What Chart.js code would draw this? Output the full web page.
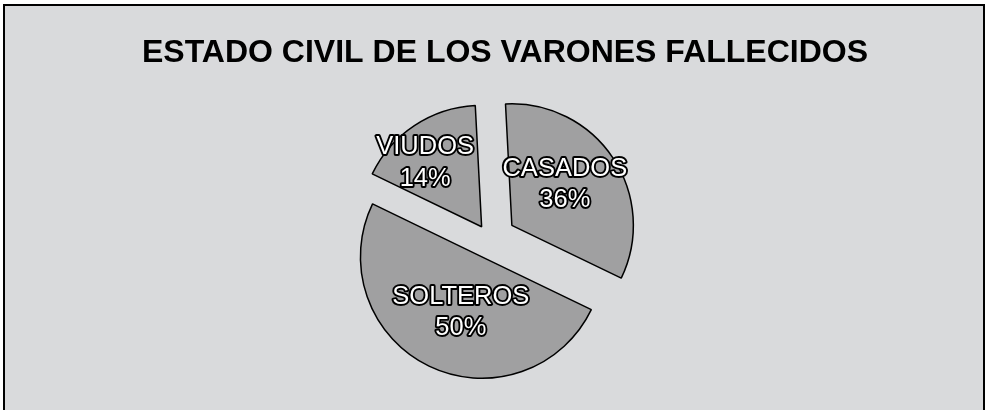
<!DOCTYPE html>
<html>
<head>
<meta charset="utf-8">
<script src="https://cdn.jsdelivr.net/npm/chart.js@4/dist/chart.umd.min.js"></script>
<style>
  html, body { margin: 0; padding: 0; background: #ffffff; }
  #frame {
    position: absolute; left: 3px; top: 4px; width: 982px; height: 420px;
    border: 2px solid #000; background: #d9dadc; box-sizing: border-box;
  }
  #wrap { position: absolute; left: 0; top: 0; width: 987px; height: 410px; }
</style>
</head>
<body>
<div id="frame"></div>
<div id="wrap"><canvas id="c" width="987" height="410"></canvas></div>
<script>
// ---- data ----
const categories   = ["CASADOS", "SOLTEROS", "VIUDOS"];
const sliceShares  = [33, 50, 17];            // slice sizes as drawn
const percentLabels = ["36%", "50%", "14%"];  // label text as printed
const chartTitle   = "ESTADO CIVIL DE LOS VARONES FALLECIDOS";

// ---- styling (not data) ----
const explodeDist   = [26, 19, 15.5];   // px each slice is pulled out
const labelRadius   = [0.55, 0.49, 0.70];
const labelAngleNudge = [-4, -5, -8];   // degrees
const pieShiftX = -14.8;

const explodePlugin = {
  id: 'explode',
  afterDatasetUpdate(chart, args) {
    const meta = args.meta;
    meta.data.forEach((el, i) => {
      const mid = (el.startAngle + el.endAngle) / 2;
      el.x += Math.cos(mid) * explodeDist[i] + pieShiftX;
      el.y += Math.sin(mid) * explodeDist[i];
    });
  }
};

const labelPlugin = {
  id: 'sliceLabels',
  afterDatasetsDraw(chart) {
    const ctx = chart.ctx;
    const meta = chart.getDatasetMeta(0);
    ctx.save();
    ctx.font = '25.5px "Liberation Sans", Arial, sans-serif';
    ctx.textAlign = 'center';
    ctx.textBaseline = 'middle';
    ctx.lineJoin = 'round';
    meta.data.forEach((el, i) => {
      const mid = (el.startAngle + el.endAngle) / 2 + labelAngleNudge[i] * Math.PI / 180;
      const r = el.outerRadius * labelRadius[i];
      const cx = el.x + Math.cos(mid) * r;
      const cy = el.y + Math.sin(mid) * r;
      const lines = [categories[i], percentLabels[i]];
      lines.forEach((t, k) => {
        const y = cy + (k - 0.5) * 31.5;
        ctx.lineWidth = 3.8;
        ctx.strokeStyle = '#000';
        ctx.strokeText(t, cx, y);
        ctx.fillStyle = '#fff';
        ctx.fillText(t, cx, y);
      });
    });
    ctx.restore();
  }
};

new Chart(document.getElementById('c'), {
  type: 'pie',
  data: {
    labels: categories,
    datasets: [{
      data: sliceShares,
      backgroundColor: '#a0a0a1',
      borderColor: '#000000',
      borderWidth: 1.5,
      radius: 121.5
    }]
  },
  options: {
    responsive: false,
    animation: false,
    rotation: -3,
    layout: { padding: { left: 23, right: 0, top: 0, bottom: 3 } },
    plugins: {
      legend: { display: false },
      tooltip: { enabled: false },
      title: {
        display: true,
        text: chartTitle,
        color: '#000',
        font: { family: '"Liberation Sans", Arial, sans-serif', size: 32, weight: 'bold', lineHeight: 1.2 },
        padding: { top: 34, bottom: 0 }
      }
    }
  },
  plugins: [explodePlugin, labelPlugin]
});
</script>
</body>
</html>
